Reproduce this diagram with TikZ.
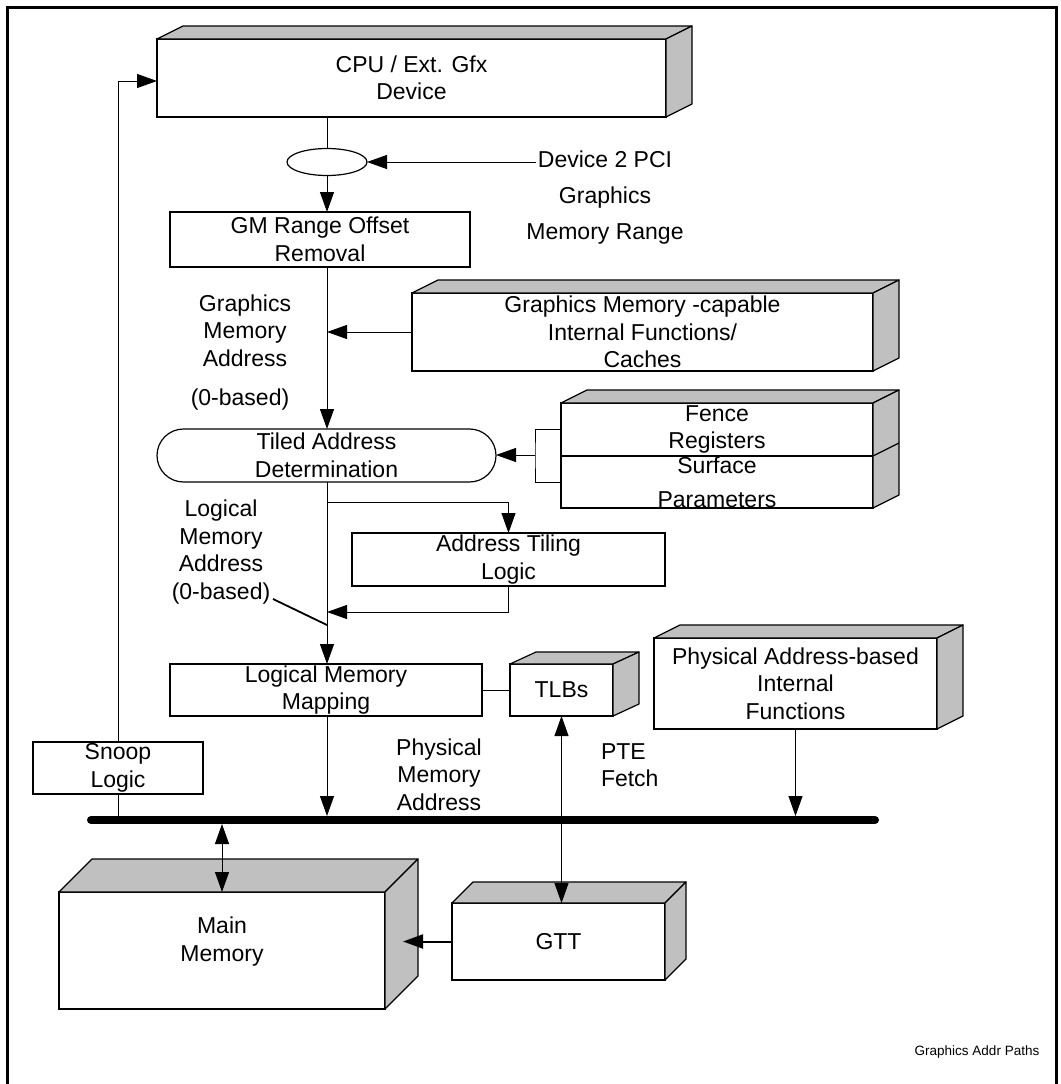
\documentclass[tikz,border=0pt]{standalone}
\usepackage{fontspec}
\setmainfont{Liberation Sans}
\usetikzlibrary{arrows.meta,shapes.geometric}
\definecolor{facegray}{RGB}{192,192,192}
\newcommand\boxfaces[3]{%
  \filldraw[face] (#1.north west) -- ++(#2,-#3) -- ([shift={(#2,-#3)}]#1.north east) -- (#1.north east) -- cycle;
  \filldraw[face] (#1.north east) -- ([shift={(#2,-#3)}]#1.north east) -- ([shift={(#2,-#3)}]#1.south east) -- (#1.south east) -- cycle;}
\begin{document}
\begin{tikzpicture}[x=1pt,y=-1pt,
  every node/.style={font=\fontsize{23}{27.5}\selectfont, inner sep=0pt, outer sep=0pt},
  front/.style={draw=black, fill=white, line width=1.2pt, align=center},
  face/.style={draw=black, fill=facegray, line width=1.2pt, line join=round},
  txt/.style={align=center},
  conn/.style={draw=black, line width=1pt},
  arr/.style={conn, -{Triangle[length=20pt,width=14pt]}},
  darr/.style={conn, {Triangle[length=20pt,width=14pt]}-{Triangle[length=20pt,width=14pt]}},
]
\useasboundingbox (0,0) rectangle (1060,1084);
\draw[line width=3pt] (7,1084) -- (7,7) -- (1056.5,7) -- (1056.5,1084);

% boxes
\node[front, minimum width=509pt, minimum height=78pt] (cpu) at (411.5,78) {CPU / Ext. Gfx\\Device};
\node[draw=black, line width=1.2pt, ellipse, fill=white, minimum width=80pt, minimum height=27pt] (e1) at (327,162) {};
\node[front, minimum width=300pt, minimum height=55pt] (gmr) at (320,239.5) {GM Range Offset\\Removal};
\node[front, minimum width=461pt, minimum height=78pt] (gmc) at (642.5,332) {Graphics Memory -capable\\Internal Functions/\\Caches};
\node[front, minimum width=312pt, minimum height=53pt] (fence) at (717,429.5) {Fence\\Registers};
\node[front, minimum width=312pt, minimum height=52pt] (surf) at (717,482) {Surface\\[6.5pt]Parameters};
\node[front, minimum width=339pt, minimum height=53pt, rounded corners=26.5pt] (tiled) at (326.5,455.5) {Tiled Address\\Determination};
\node[front, minimum width=313pt, minimum height=53pt] (tiling) at (508.5,559.5) {Address Tiling\\Logic};
\node[front, minimum width=312pt, minimum height=52pt] (lmm) at (326,690) {Logical Memory\\Mapping};
\node[front, minimum width=103pt, minimum height=52pt] (tlb) at (561.5,690) {TLBs};
\node[front, minimum width=283pt, minimum height=91pt] (phys) at (795.5,683.5) {Physical Address-based\\Internal\\Functions};
\node[front, minimum width=170pt, minimum height=52pt] (snoop) at (118,768) {Snoop\\Logic};
\node[front, minimum width=326pt, minimum height=117pt] (mm) at (222,950.5) {};
\node[txt] (mmtxt) at (222,941.5) {Main\\Memory};
\node[front, minimum width=213pt, minimum height=77pt] (gtt) at (558.5,941.5) {GTT};

% 3D faces
\boxfaces{cpu}{26}{13}
\boxfaces{gmc}{26}{13}
\boxfaces{tlb}{26}{12}
\boxfaces{phys}{26}{13}
\boxfaces{mm}{33}{33}
\boxfaces{gtt}{21}{21}
\filldraw[face] (fence.north west) -- ++(26,-13) -- ([shift={(26,-13)}]fence.north east) -- (fence.north east) -- cycle;
\filldraw[face] (fence.north east) -- ([shift={(26,-13)}]fence.north east) -- ([shift={(26,-13)}]surf.south east) -- (surf.south east) -- cycle;
\draw[face] (fence.south east) -- ([shift={(26,-13)}]fence.south east);

% free labels
\node[txt] (devtxt) at (605,198) {Device 2 PCI\\[8.5pt]Graphics\\[8.5pt]Memory Range};
\node[txt] (gmaddr) at (245,330.5) {Graphics\\Memory\\Address};
\node[txt] (zb) at (240,400) {(0-based)};
\node[txt] (lmaddr) at (221,552) {Logical\\Memory\\Address\\(0-based)};
\node[txt] (pmaddr) at (439,774.5) {Physical\\Memory\\Address};
\node[align=left, anchor=west] (pte) at (601,765) {PTE\\Fetch};
\node[font=\fontsize{13.5}{16}\selectfont] (title) at (977,1052) {Graphics Addr Paths};

% coordinates
\coordinate (mx) at (327,0);
\coordinate (busL) at (91,820);
\coordinate (busR) at (875,820);
\coordinate (bustop) at (0,816);
\coordinate (busbot) at (0,824);
\coordinate (devsrc) at (536,162);
\coordinate (brk) at (535,455);
\coordinate (br1) at (327,502);
\coordinate (ret) at (327,612);
\coordinate (lp1) at (273,599);
\coordinate (lp2) at (327,625);

% bus
\draw[line width=8pt, line cap=round] (busL) -- (busR);

% connectors
\draw[arr] (snoop.north) |- ([yshift=-3pt]cpu.west);
\draw[conn] (snoop.south) -- (snoop.south |- busL);
\draw[conn] (mx |- cpu.south) -- (e1.north);
\draw[arr] (e1.south) -- (mx |- gmr.north);
\draw[arr] (devsrc) -- (e1.east);
\draw[arr] (mx |- gmr.south) -- (mx |- tiled.north);
\draw[arr] (gmc.west) -- (mx |- gmc.west);
\draw[conn] (fence.west) -| (brk) |- (surf.west);
\draw[arr] (brk) -- (tiled.east |- brk);
\draw[arr] (mx |- tiled.south) -- (mx |- lmm.north);
\draw[arr] (br1) -| (tiling.north);
\draw[arr] (tiling.south) |- (ret);
\draw[line width=1.8pt] (lp1) -- (lp2);
\draw[arr] (mx |- lmm.south) -- (mx |- bustop);
\draw[conn] (lmm.east) -- (tlb.west);
\draw[darr] (tlb.south) -- (tlb.south |- gtt.north);
\draw[arr] (phys.south) -- (phys.south |- bustop);
\draw[darr] (mm.north |- busbot) -- (mm.north);
\draw[conn, line width=2pt, -{Triangle[length=20pt,width=14pt]}] (gtt.west) -- ([xshift=18pt]mm.east |- gtt.west);
\end{tikzpicture}
\end{document}
